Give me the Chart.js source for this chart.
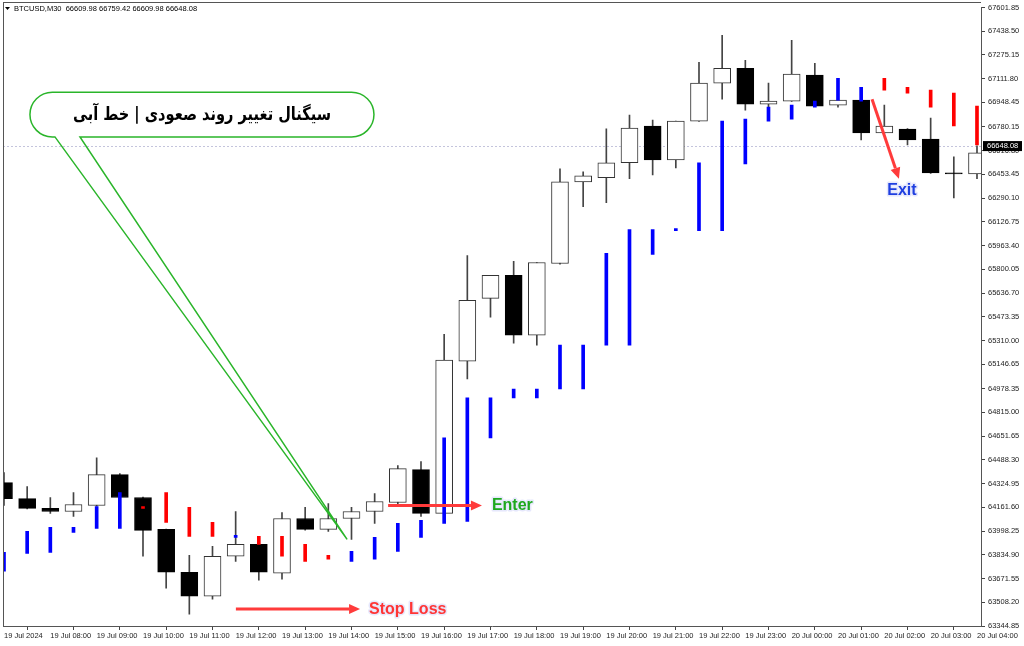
<!DOCTYPE html>
<html>
<head>
<meta charset="utf-8">
<script src="https://cdn.jsdelivr.net/npm/chart.js@4.4.1/dist/chart.umd.min.js"></script>
<style>
  html, body { margin: 0; padding: 0; background: #fff; }
  canvas { display: block; }
</style>
</head>
<body>
<canvas id="chart" width="1024" height="646"></canvas>
<script>
// BTCUSD M30, 19 Jul 07:00 -> 20 Jul 04:00 (one entry per candle)
const hourLabels = ['19 Jul 2024', '19 Jul 08:00', '19 Jul 09:00', '19 Jul 10:00', '19 Jul 11:00',
  '19 Jul 12:00', '19 Jul 13:00', '19 Jul 14:00', '19 Jul 15:00', '19 Jul 16:00', '19 Jul 17:00',
  '19 Jul 18:00', '19 Jul 19:00', '19 Jul 20:00', '19 Jul 21:00', '19 Jul 22:00', '19 Jul 23:00',
  '20 Jul 00:00', '20 Jul 01:00', '20 Jul 02:00', '20 Jul 03:00', '20 Jul 04:00'];

const openPrices = [64332, 64222, 64154, 64133, 64174, 64387, 64229, 64010, 63715, 63551,
  63825, 63907, 63708, 64085, 64010, 64085, 64133, 64195, 64421, 64120,
  65168, 65600, 65758, 65347, 65840, 66402, 66430, 66533, 66786, 66553,
  66820, 67081, 67184, 66937, 66957, 67136, 66930, 66964, 66738, 66765,
  66697, 66464, 66457];
const highPrices = [64400, 64305, 64229, 64263, 64503, 64394, 64232, 64012, 63832, 63893,
  64133, 63962, 64126, 64161, 64188, 64161, 64256, 64449, 64476, 65353,
  65895, 65758, 65854, 65847, 66491, 66471, 66766, 66862, 66827, 66820,
  67225, 67410, 67239, 67081, 67376, 67218, 67115, 66966, 66930, 66768,
  66841, 66574, 66649];
const lowPrices = [64174, 64150, 64120, 64099, 64170, 64225, 63825, 63605, 63427, 63530,
  63790, 63660, 63667, 64005, 63996, 63941, 64051, 64181, 64099, 64115,
  65045, 65470, 65292, 65278, 65836, 66231, 66258, 66423, 66450, 66498,
  66818, 66971, 66896, 66920, 66955, 66920, 66916, 66690, 66735, 66656,
  66460, 66292, 66423];
const closePrices = [64222, 64154, 64133, 64181, 64387, 64229, 64003, 63715, 63551, 63825,
  63907, 63715, 64085, 64010, 64085, 64133, 64202, 64428, 64120, 65175,
  65586, 65758, 65347, 65847, 66402, 66443, 66533, 66772, 66553, 66820,
  67081, 67184, 66937, 66957, 67143, 66923, 66964, 66738, 66786, 66690,
  66464, 66457, 66601];

// trend indicator histogram (1 = blue / up, -1 = red / down)
const signalHigh = [63852, 63996, 64024, 64024, 64167, 64263, 64167, 64263, 64161, 64058,
  63969, 63962, 63962, 63907, 63832, 63859, 63955, 64051, 64072, 64640,
  64915, 64915, 64976, 64976, 65278, 65278, 65909, 66073, 66073, 66080,
  66532, 66820, 66834, 66916, 66930, 66957, 67115, 67053, 67115, 67053,
  67033, 67012, 66923];
const signalLow = [63722, 63845, 63852, 63989, 64017, 64017, 64154, 64058, 63962, 63962,
  63955, 63907, 63825, 63790, 63804, 63790, 63804, 63859, 63955, 64051,
  64065, 64640, 64915, 64915, 64976, 64976, 65278, 65278, 65902, 66066,
  66066, 66066, 66526, 66820, 66834, 66916, 66964, 66957, 67033, 67012,
  66916, 66786, 66656];
const signalTrend = [1, 1, 1, 1, 1, 1, -1, -1, -1, -1,
  1, -1, -1, -1, -1, 1, 1, 1, 1, 1,
  1, 1, 1, 1, 1, 1, 1, 1, 1, 1,
  1, 1, 1, 1, 1, 1, 1, 1, -1, -1,
  -1, -1, -1];

const priceTicks = [67601.85, 67438.50, 67275.15, 67111.80, 66948.45, 66780.15, 66616.80,
  66453.45, 66290.10, 66126.75, 65963.40, 65800.05, 65636.70, 65473.35, 65310.00, 65146.65,
  64978.35, 64815.00, 64651.65, 64488.30, 64324.95, 64161.60, 63998.25, 63834.90, 63671.55,
  63508.20, 63344.85];
const lastBar = ['66609.98', '66759.42', '66609.98', '66648.08'];
const lastPrice = 66648.08;

const idx = openPrices.map((_, i) => i);
const isBull = i => closePrices[i] >= openPrices[i];

// annotations, in chart coordinates (candle index, price)
const notes = {
  bubble: { x1: 1.12, x2: 15.97, top: 67019, bottom: 66711, tailA: 2.2, tailB: 3.28, tipX: 14.81, tipY: 63941 },
  bubbleText: 'سیگنال تغییر روند صعودی | خط آبی',
  enter: { from: 16.58, to: 20.63, price: 64174, textX: 21.06 },
  stop: { from: 10.01, to: 15.37, price: 63461, textX: 15.76 },
  exit: { x1: 37.47, y1: 66971, x2: 38.63, y2: 66423, textX: 38.76, textY: 66341 }
};

const tickFont = { family: 'Liberation Sans', size: 7.5 };

function arrow(ctx, x1, y1, x2, y2) {
  const a = Math.atan2(y2 - y1, x2 - x1);
  const hl = 11, hw = 5;
  ctx.strokeStyle = '#ff3b3b';
  ctx.fillStyle = '#ff3b3b';
  ctx.lineWidth = 3;
  ctx.beginPath();
  ctx.moveTo(x1, y1);
  ctx.lineTo(x2 - hl * Math.cos(a), y2 - hl * Math.sin(a));
  ctx.stroke();
  ctx.beginPath();
  ctx.moveTo(x2, y2);
  ctx.lineTo(x2 - hl * Math.cos(a) + hw * Math.sin(a), y2 - hl * Math.sin(a) - hw * Math.cos(a));
  ctx.lineTo(x2 - hl * Math.cos(a) - hw * Math.sin(a), y2 - hl * Math.sin(a) + hw * Math.cos(a));
  ctx.closePath();
  ctx.fill();
}

function haloText(ctx, text, x, y, color, align) {
  ctx.font = 'bold 16px "Liberation Sans", Arial, sans-serif';
  ctx.textAlign = align;
  ctx.textBaseline = 'middle';
  ctx.lineJoin = 'round';
  ctx.strokeStyle = '#e6e8fc';
  ctx.lineWidth = 3;
  ctx.strokeText(text, x, y);
  ctx.fillStyle = color;
  ctx.fillText(text, x, y);
}

const overlay = {
  id: 'overlay',
  beforeDatasetsDraw(chart) {
    const { ctx, chartArea, scales: { y } } = chart;
    const py = Math.round(y.getPixelForValue(lastPrice)) + 0.5;
    ctx.save();
    ctx.strokeStyle = '#c4c4dc';
    ctx.lineWidth = 1;
    ctx.setLineDash([2, 2]);
    ctx.beginPath();
    ctx.moveTo(chartArea.left, py);
    ctx.lineTo(chartArea.right, py);
    ctx.stroke();
    ctx.restore();
  },
  afterDraw(chart) {
    const { ctx, chartArea, scales: { x, y } } = chart;
    const X = v => x.getPixelForValue(v);
    const Y = v => y.getPixelForValue(v);
    ctx.save();

    // frame
    ctx.strokeStyle = '#555';
    ctx.lineWidth = 1;
    ctx.beginPath();
    ctx.moveTo(chartArea.left + 0.5, 2);
    ctx.lineTo(chartArea.left + 0.5, chartArea.bottom);
    ctx.moveTo(chartArea.left, 2.5);
    ctx.lineTo(chartArea.right, 2.5);
    ctx.stroke();

    // symbol line
    ctx.fillStyle = '#000';
    ctx.beginPath();
    ctx.moveTo(5, 7); ctx.lineTo(10, 7); ctx.lineTo(7.5, 10);
    ctx.closePath();
    ctx.fill();
    ctx.font = '7.5px "Liberation Sans", Arial, sans-serif';
    ctx.textAlign = 'left';
    ctx.textBaseline = 'middle';
    ctx.fillText('BTCUSD,M30  ' + lastBar.join(' '), 14, 9);

    // last price marker on axis
    const py = Y(lastPrice);
    ctx.fillStyle = '#000';
    ctx.fillRect(chartArea.right + 2, py - 5, 39, 10);
    ctx.fillStyle = '#fff';
    ctx.fillText(lastPrice.toFixed(2), chartArea.right + 6, py);

    // callout bubble
    const b = notes.bubble;
    const bx1 = X(b.x1), bx2 = X(b.x2), bt = Y(b.top), bb = Y(b.bottom);
    const r = (bb - bt) / 2;
    ctx.strokeStyle = '#2ab52a';
    ctx.lineWidth = 1.5;
    ctx.beginPath();
    ctx.moveTo(X(b.tailA), bb);
    ctx.lineTo(bx1 + r, bb);
    ctx.arc(bx1 + r, bt + r, r, Math.PI / 2, Math.PI * 1.5);
    ctx.lineTo(bx2 - r, bt);
    ctx.arc(bx2 - r, bt + r, r, -Math.PI / 2, Math.PI / 2);
    ctx.lineTo(X(b.tailB), bb);
    ctx.lineTo(X(b.tipX), Y(b.tipY));
    ctx.closePath();
    ctx.stroke();

    // persian caption, squeezed to the width it has in the reference
    ctx.fillStyle = '#000';
    ctx.font = 'bold 18px "DejaVu Sans", sans-serif';
    ctx.textAlign = 'center';
    ctx.textBaseline = 'middle';
    ctx.direction = 'rtl';
    const tw = ctx.measureText(notes.bubbleText).width;
    const target = (bx2 - bx1) * 0.75;
    ctx.save();
    ctx.translate((bx1 + bx2) / 2, (bt + bb) / 2 + 1);
    ctx.scale(Math.min(1, target / tw), 1);
    ctx.fillText(notes.bubbleText, 0, 0);
    ctx.restore();
    ctx.direction = 'ltr';

    // enter / stop loss / exit
    const e = notes.enter, s = notes.stop, q = notes.exit;
    arrow(ctx, X(e.from), Y(e.price), X(e.to), Y(e.price));
    haloText(ctx, 'Enter', X(e.textX), Y(e.price), '#1ea81e', 'left');
    arrow(ctx, X(s.from), Y(s.price), X(s.to), Y(s.price));
    haloText(ctx, 'Stop Loss', X(s.textX), Y(s.price), '#ff3535', 'left');
    arrow(ctx, X(q.x1), Y(q.y1), X(q.x2), Y(q.y2));
    haloText(ctx, 'Exit', X(q.textX), Y(q.textY), '#1f3fe0', 'center');

    ctx.restore();
  }
};

new Chart(document.getElementById('chart'), {
  type: 'bar',
  data: {
    datasets: [
      {
        label: 'signal',
        data: idx.map(i => ({ x: i, y: [signalLow[i], signalHigh[i]] })),
        backgroundColor: idx.map(i => signalTrend[i] > 0 ? '#0000ff' : '#ff0000'),
        barThickness: 3,
        borderWidth: 0,
        grouped: false,
        order: 0
      },
      {
        label: 'body',
        data: idx.map(i => ({ x: i, y: [openPrices[i], closePrices[i]] })),
        backgroundColor: idx.map(i => isBull(i) ? '#ffffff' : '#000000'),
        borderColor: idx.map(i => isBull(i) ? '#333333' : '#000000'),
        borderWidth: 1,
        borderSkipped: false,
        barThickness: 17,
        grouped: false,
        order: 1
      },
      {
        label: 'wick',
        data: idx.map(i => ({ x: i, y: [lowPrices[i], highPrices[i]] })),
        backgroundColor: '#444444',
        barThickness: 1,
        borderWidth: 0,
        grouped: false,
        order: 2
      }
    ]
  },
  options: {
    responsive: false,
    animation: false,
    layout: { padding: { left: 3, top: 5, right: 0, bottom: 0 } },
    plugins: { legend: { display: false }, tooltip: { enabled: false } },
    scales: {
      x: {
        type: 'linear',
        offset: false,
        min: -0.043,
        max: 42.173,
        afterBuildTicks: s => { s.ticks = hourLabels.map((_, k) => ({ value: 2 * k })); },
        afterFit: s => { s.height = 20; s.paddingLeft = 0; s.paddingRight = 0; },
        ticks: {
          autoSkip: false,
          maxRotation: 0,
          align: 'start',
          padding: 1,
          color: '#222',
          font: tickFont,
          callback: v => hourLabels[v / 2]
        },
        grid: { drawOnChartArea: false, tickLength: 4, color: '#444' },
        border: { color: '#555' }
      },
      y: {
        position: 'right',
        min: 63344.85,
        max: 67601.85,
        afterBuildTicks: s => { s.ticks = priceTicks.map(v => ({ value: v })); },
        afterFit: s => { s.width = 43; },
        ticks: {
          padding: 3,
          color: '#222',
          font: tickFont,
          callback: v => v.toFixed(2)
        },
        grid: { drawOnChartArea: false, tickLength: 4, color: '#444' },
        border: { color: '#555' }
      }
    }
  },
  plugins: [overlay]
});
</script>
</body>
</html>
